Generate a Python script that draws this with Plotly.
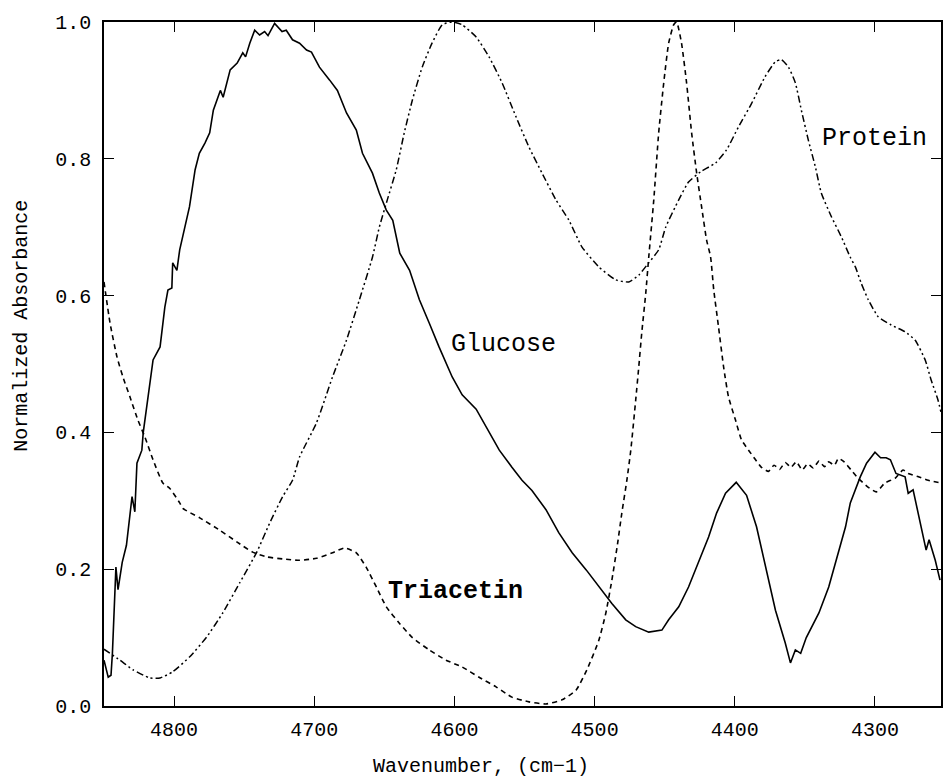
import plotly.graph_objects as go

# ---------------- data ----------------
glucose_wn = [4850, 4847, 4845, 4844, 4841.5, 4840, 4837, 4834, 4830, 4828, 4826.5, 4823, 4822,
              4818.7, 4815, 4810, 4806.6, 4804.4, 4801.6, 4801, 4798, 4796, 4792, 4789, 4785, 4782,
              4778, 4774.6, 4772, 4767, 4765, 4760, 4755, 4751, 4749, 4746, 4742.5, 4739, 4735.4,
              4733, 4728.3, 4723, 4720, 4715.5, 4710.5, 4705.5, 4702, 4696.3, 4689, 4683.5, 4677,
              4670, 4665.6, 4658.5, 4653.6, 4648.6, 4644, 4639, 4632, 4625, 4618, 4611, 4601.6,
              4594.5, 4584.5, 4575, 4568, 4559, 4551.8, 4544.7, 4534.7, 4525.5, 4516, 4506, 4497,
              4487.7, 4477.8, 4470.7, 4461.4, 4452, 4447.2, 4440, 4433, 4426, 4418.7, 4413, 4406.6,
              4399, 4391.6, 4384.5, 4378, 4371, 4364, 4360.3, 4356.8, 4353, 4349, 4340, 4333,
              4327.6, 4321, 4317.6, 4310.5, 4306, 4300, 4296, 4292, 4289, 4285, 4278.5, 4276.3,
              4272.8, 4267.8, 4263.5, 4261.4, 4257, 4253.6]
glucose_abs = [0.067, 0.042, 0.045, 0.077, 0.203, 0.17, 0.21, 0.235, 0.306, 0.284, 0.355, 0.374, 0.40,
               0.447, 0.506, 0.525, 0.583, 0.608, 0.611, 0.648, 0.637, 0.667, 0.706, 0.73, 0.784, 0.808,
               0.823, 0.838, 0.871, 0.90, 0.89, 0.93, 0.94, 0.955, 0.949, 0.969, 0.988, 0.981, 0.986,
               0.98, 0.998, 0.986, 0.988, 0.974, 0.969, 0.959, 0.956, 0.934, 0.915, 0.90, 0.867,
               0.842, 0.808, 0.779, 0.75, 0.725, 0.71, 0.662, 0.637, 0.594, 0.56, 0.525, 0.481,
               0.455, 0.434, 0.399, 0.374, 0.349, 0.33, 0.315, 0.287, 0.253, 0.224, 0.199, 0.174,
               0.15, 0.126, 0.116, 0.108, 0.111, 0.126, 0.145, 0.174, 0.209, 0.247, 0.282, 0.311,
               0.327, 0.308, 0.262, 0.203, 0.14, 0.092, 0.063, 0.082, 0.077, 0.1, 0.136, 0.174,
               0.213, 0.262, 0.297, 0.335, 0.355, 0.371, 0.363, 0.363, 0.36, 0.34, 0.335, 0.311,
               0.316, 0.268, 0.228, 0.243, 0.213, 0.184]

triacetin_wn = [4850, 4845.7, 4840.7, 4836.5, 4831.5, 4825.8, 4820.8, 4815, 4808, 4803, 4796, 4793.8,
                4781.7, 4767.4, 4755.3, 4744, 4734, 4722.6, 4710.5, 4698.4, 4687, 4678.5, 4670, 4663,
                4655.7, 4648.6, 4639.3, 4630, 4618, 4606, 4594.5, 4582.4, 4570.3, 4559, 4546.8, 4534.7,
                4523.3, 4513.3, 4505.5, 4497, 4492, 4487.7, 4484, 4480.6, 4477, 4474.2, 4470.7, 4468.5,
                4466.4, 4463.5, 4461.4, 4457.8, 4454.3, 4450.7, 4447.2, 4443.6, 4441.5, 4438, 4434.4,
                4430.8, 4427.2, 4423.7, 4420.1, 4417.3, 4415, 4411.6, 4408, 4404.5, 4399.5, 4395.2,
                4390.2, 4385.2, 4381, 4376, 4372, 4368, 4364, 4360, 4356, 4352, 4348, 4344, 4340,
                4336, 4333, 4329, 4326, 4322, 4317, 4312, 4305, 4299, 4293, 4285.6, 4280, 4276.3,
                4269, 4262, 4253]
triacetin_abs = [0.62, 0.56, 0.51, 0.481, 0.452, 0.418, 0.393, 0.36, 0.326, 0.318, 0.297, 0.289,
                 0.275, 0.257, 0.24, 0.225, 0.218, 0.215, 0.213, 0.216, 0.224, 0.231, 0.224, 0.203,
                 0.174, 0.145, 0.121, 0.1, 0.082, 0.067, 0.057, 0.042, 0.028, 0.013, 0.006, 0.003,
                 0.009, 0.023, 0.053, 0.096, 0.136, 0.184, 0.232, 0.282, 0.33, 0.374, 0.447, 0.496,
                 0.545, 0.604, 0.656, 0.74, 0.838, 0.911, 0.969, 0.996, 1.0, 0.969, 0.911,
                 0.838, 0.779, 0.73, 0.681, 0.657, 0.608, 0.554, 0.496, 0.452, 0.418, 0.389,
                 0.374, 0.36, 0.349, 0.343, 0.352, 0.346, 0.356, 0.349, 0.357, 0.345, 0.354, 0.348, 0.358,
                 0.350, 0.357, 0.352, 0.362, 0.357, 0.345, 0.333, 0.32, 0.313, 0.326, 0.333, 0.345, 0.34,
                 0.335, 0.33, 0.326]

protein_wn = [4850, 4838.6, 4829.4, 4817.3, 4810, 4801, 4788.8, 4776.7, 4765.3, 4753.2, 4741, 4731.9,
              4722.6, 4715.5, 4710.5, 4698.4, 4687, 4677, 4667.8, 4658.5, 4653.6, 4647.9, 4641.5,
              4635.8, 4630, 4623, 4616, 4608.7, 4601.6, 4594.5, 4584.5, 4575.3, 4566, 4556, 4546.8,
              4537.5, 4527.6, 4518.3, 4509, 4497, 4484.9, 4475.6, 4468.5, 4461.4, 4454.3, 4449.3,
              4440, 4433, 4424.4, 4413.7, 4405.9, 4397.3, 4388, 4378.4, 4371, 4366.8, 4361.7,
              4356.8, 4352.5, 4347.5, 4342.5, 4338.3, 4331, 4324, 4317.6, 4314, 4309.8, 4304.8,
              4297.7, 4288.4, 4278.5, 4271.4, 4264.2, 4260, 4255, 4253]
protein_abs = [0.083, 0.067, 0.053, 0.041, 0.041, 0.05, 0.072, 0.101, 0.136, 0.18, 0.225, 0.267,
               0.306, 0.33, 0.364, 0.414, 0.481, 0.535, 0.594, 0.656, 0.70, 0.74, 0.784,
               0.838, 0.886, 0.934, 0.969, 0.996, 1.0, 0.996, 0.978, 0.949, 0.911, 0.861, 0.817,
               0.779, 0.74, 0.71, 0.671, 0.642, 0.623, 0.62, 0.63, 0.648, 0.667, 0.70,
               0.74, 0.766, 0.781, 0.794, 0.813, 0.847, 0.881, 0.92, 0.942, 0.945, 0.934,
               0.911, 0.871, 0.827, 0.788, 0.75, 0.715, 0.686, 0.656, 0.642, 0.618, 0.594,
               0.569, 0.557, 0.547, 0.535, 0.506, 0.477, 0.447, 0.43]

x_ticks = [4800, 4700, 4600, 4500, 4400, 4300]
y_ticks = [0.0, 0.2, 0.4, 0.6, 0.8, 1.0]

labels = ["Glucose", "Triacetin", "Protein"]
label_x = [4565, 4599, 4300]
label_y = [0.529, 0.167, 0.83]

x_title = "Wavenumber, (cm\u22121)"
y_title = "Normalized Absorbance"

# ---------------- figure ----------------
FONT = "Liberation Mono, Courier New, monospace"
fig = go.Figure()
fig.add_trace(go.Scatter(x=glucose_wn, y=glucose_abs, mode="lines",
                         line=dict(color="black", width=1.6), name="Glucose"))
fig.add_trace(go.Scatter(x=triacetin_wn, y=triacetin_abs, mode="lines",
                         line=dict(color="black", width=1.6, dash="5px,4px", shape="spline", smoothing=0.5),
                         name="Triacetin"))
fig.add_trace(go.Scatter(x=protein_wn, y=protein_abs, mode="lines",
                         line=dict(color="black", width=1.5, dash="7px,3px,2px,3px,2px,3px",
                                   shape="spline", smoothing=0.5),
                         name="Protein"))

for t, xx, yy in zip(labels, label_x, label_y):
    txt = "<b>%s</b>" % t if t == "Triacetin" else t
    fig.add_annotation(x=xx, y=yy, text=txt, showarrow=False,
                       font=dict(family=FONT, size=25, color="black"),
                       xanchor="center", yanchor="middle")

# axis titles placed as in the reference (slightly off-centre)
fig.add_annotation(xref="paper", yref="paper", x=0.45, y=-0.089, text=x_title, showarrow=False,
                   font=dict(family=FONT, size=20, color="black"), xanchor="center", yanchor="middle")
fig.add_annotation(xref="paper", yref="paper", x=-0.098, y=0.556, text=y_title, showarrow=False,
                   textangle=-90, font=dict(family=FONT, size=20, color="black"),
                   xanchor="center", yanchor="middle")

axis_common = dict(showline=True, linecolor="black", linewidth=1.5, mirror="ticks",
                   ticks="inside", ticklen=10, tickwidth=1.2, tickcolor="black",
                   showgrid=False, zeroline=False,
                   tickfont=dict(family=FONT, size=20, color="black"))

fig.update_xaxes(range=[4850, 4252.9], tickvals=x_ticks, ticktext=[str(v) for v in x_ticks],
                 ticklabelstandoff=4, **axis_common)
fig.update_yaxes(range=[0, 1.0], tickvals=y_ticks, ticktext=["%.1f" % v for v in y_ticks],
                 ticklabelstandoff=7, **axis_common)

fig.update_layout(width=943, height=783, margin=dict(l=104, r=0, t=22, b=77),
                  plot_bgcolor="white", paper_bgcolor="white", showlegend=False)

fig.write_html("out.html")
